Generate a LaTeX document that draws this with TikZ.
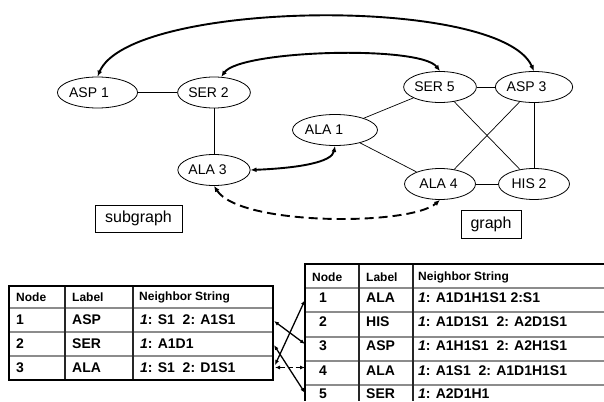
\documentclass[tikz,border=0pt]{standalone}
\usepackage{fontspec}
\setmainfont{Liberation Sans}
\usetikzlibrary{shapes.geometric,arrows.meta}
\begin{document}
\begin{tikzpicture}[x=1pt,y=-1pt,
  vtx/.style={ellipse,draw,line width=0.8pt,minimum width=71pt,minimum height=31pt,inner sep=0pt,font=\fontsize{14}{16}\selectfont},
  edge/.style={line width=0.7pt},
  link/.style={line width=1.9pt,{Latex[length=6pt,width=5pt]}-{Latex[length=6pt,width=5pt]}},
  dlink/.style={link,dash pattern=on 9pt off 5pt},
  tlink/.style={line width=1.3pt,{Latex[length=5pt,width=4pt]}-{Latex[length=5pt,width=4pt]}},
  tdlink/.style={tlink,dash pattern=on 5pt off 3pt},
  tag/.style={draw,line width=0.8pt,inner sep=0pt,font=\fontsize{16}{18}\selectfont},
  cell/.style={anchor=west,inner sep=0pt,font=\fontsize{14}{16}\selectfont\bfseries},
  hcell/.style={anchor=west,inner sep=0pt,font=\fontsize{12}{14}\selectfont\bfseries},
  outer/.style={line width=1.8pt},
  sep/.style={line width=1.5pt,black!45},
  col/.style={line width=1.2pt,black!85}
]
\useasboundingbox (0,0) rectangle (604,401);

% graph nodes
\node[vtx] (asp1) at (97.5,92.5) {ASP 1\hspace*{17pt}};
\node[vtx] (ser2) at (214,92.5) {SER 2\hspace*{11pt}};
\node[vtx] (ala3) at (214,170) {ALA 3\hspace*{13pt}};
\node[vtx] (ala1) at (335,130) {ALA 1\hspace*{22pt}};
\node[vtx] (ser5) at (440,87) {SER 5\hspace*{11pt}};
\node[vtx] (asp3) at (534,87) {ASP 3\hspace*{15pt}};
\node[vtx] (ala4) at (440,184) {ALA 4\hspace*{3pt}};
\node[vtx] (his2) at (534,184) {HIS 2\hspace*{10pt}};

\node[tag,minimum width=87pt,minimum height=27pt] (sub) at (138.5,218.5) {subgraph};
\node[tag,minimum width=60pt,minimum height=28pt] (gr) at (491,224) {graph};

% edges
\draw[edge] (asp1) -- (ser2);
\draw[edge] (ser2) -- (ala3);
\draw[edge] (ala1) -- (ser5);
\draw[edge] (ala1) -- (ala4);
\draw[edge] (ser5) -- (asp3);
\draw[edge] (ser5) -- (his2);
\draw[edge] (asp3) -- (ala4);
\draw[edge] (asp3) -- (his2);
\draw[edge] (ala4) -- (his2);

% correspondences
\draw[link] (asp1.north) .. controls (130,0) and (500,-5) .. (asp3.north);
\draw[link] (ser2.65) .. controls (240,50) and (420,45) .. (ser5.north);
\draw[link] (ala3.east) .. controls (300,168) and (332,162) .. (ala1.south);
\draw[dlink] (ala3.south) .. controls (240,226) and (410,226) .. (ala4.south);

% left table
\draw[sep] (9,308) -- (273,308);
\draw[sep] (9,332) -- (273,332);
\draw[sep] (9,356) -- (273,356);
\draw[col] (65,286) -- (65,380);
\draw[col] (133,286) -- (133,380);
\draw[outer] (9,286) rectangle (273,380);

\node[hcell] (lh1) at (16,297.5) {Node};
\node[hcell] (lh2) at (72,297.5) {Label};
\node[hcell] (lh3) at (139,297.5) {Neighbor String};
\node[cell] (ln1) at (16,319.5) {1};
\node[cell] (ll1) at (72,319.5) {ASP};
\node[cell] (ls1) at (140,319.5) {\textit{1}: S1\ \ 2: A1S1};
\node[cell] (ln2) at (16,343.5) {2};
\node[cell] (ll2) at (72,343.5) {SER};
\node[cell] (ls2) at (140,343.5) {\textit{1}: A1D1};
\node[cell] (ln3) at (16,367.5) {3};
\node[cell] (ll3) at (72,367.5) {ALA};
\node[cell] (ls3) at (140,367.5) {\textit{1}: S1\ \ 2: D1S1};

% right table
\draw[sep] (305,288) -- (604,288);
\draw[sep] (305,312) -- (604,312);
\draw[sep] (305,337) -- (604,337);
\draw[sep] (305,361) -- (604,361);
\draw[sep] (305,385) -- (604,385);
\draw[col] (359,264) -- (359,401);
\draw[col] (413,264) -- (413,401);
\draw[outer] (604,264) -- (305,264) -- (305,401);

\node[hcell] (rh1) at (312,277) {Node};
\node[hcell] (rh2) at (366,277) {Label};
\node[hcell] (rh3) at (418,277) {Neighbor String};
\node[cell] (rn1) at (319,298) {1};
\node[cell] (rl1) at (366,298) {ALA};
\node[cell] (rs1) at (418,298) {\textit{1}: A1D1H1S1 2:S1};
\node[cell] (rn2) at (319,321.5) {2};
\node[cell] (rl2) at (366,321.5) {HIS};
\node[cell] (rs2) at (418,321.5) {\textit{1}: A1D1S1\ \ 2: A2D1S1};
\node[cell] (rn3) at (319,346) {3};
\node[cell] (rl3) at (366,346) {ASP};
\node[cell] (rs3) at (418,346) {\textit{1}: A1H1S1\ \ 2: A2H1S1};
\node[cell] (rn4) at (319,370.5) {4};
\node[cell] (rl4) at (366,370.5) {ALA};
\node[cell] (rs4) at (418,370.5) {\textit{1}: A1S1\ \ 2: A1D1H1S1};
\node[cell] (rn5) at (319,394) {5};
\node[cell] (rl5) at (366,394) {SER};
\node[cell] (rs5) at (418,394) {\textit{1}: A2D1H1};

% table links
\coordinate (la1) at (274,321);
\coordinate (la2) at (274,345);
\coordinate (la3) at (275,365);
\coordinate (la3d) at (275,367.5);
\coordinate (ra1) at (305,300);
\coordinate (ra3) at (305,344);
\coordinate (ra4) at (305,367.5);
\coordinate (ra5) at (305,393);
\draw[tlink] (la3) -- (ra1);
\draw[tlink] (la1) -- (ra3);
\draw[tlink] (la2) -- (ra5);
\draw[tdlink] (la3d) -- (ra4);
\end{tikzpicture}
\end{document}
